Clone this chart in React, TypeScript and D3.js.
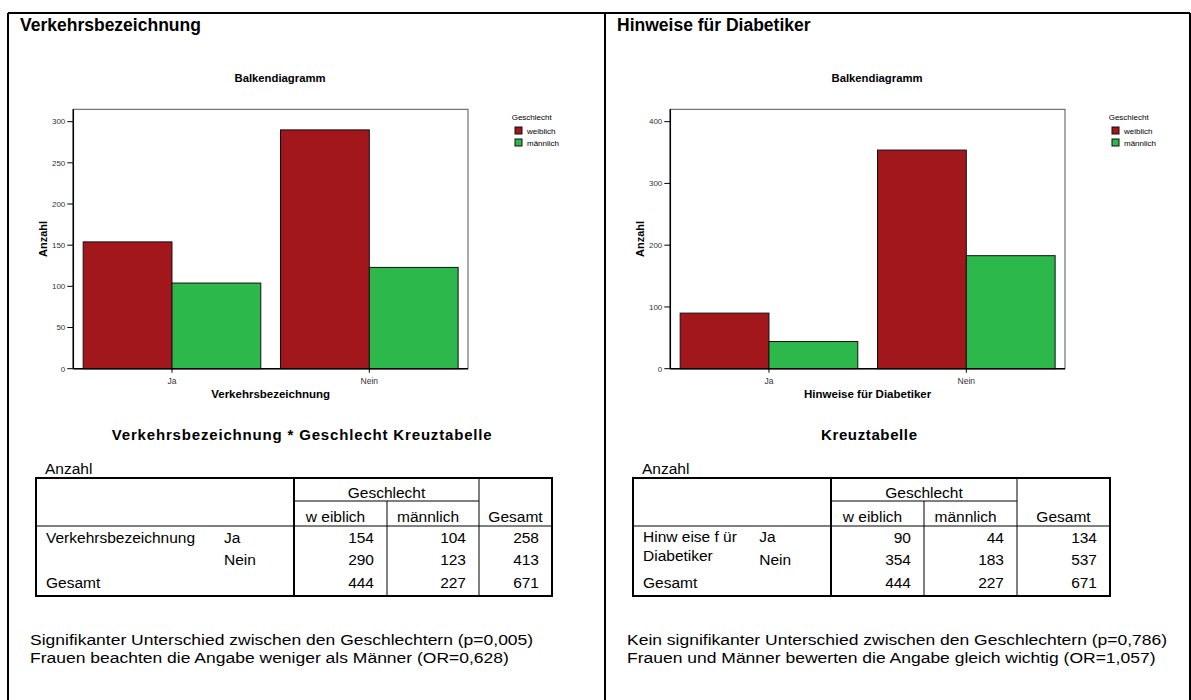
import * as d3 from "d3";

const categories = ["Ja", "Nein"];
const genders = ["weiblich", "männlich"];
const genderHeaders = ["w eiblich", "männlich"];
const verkehrWeiblich = [154, 290];
const verkehrMaennlich = [104, 123];
const verkehrRowTotals = [258, 413];
const diabetikerWeiblich = [90, 354];
const diabetikerMaennlich = [44, 183];
const diabetikerRowTotals = [134, 537];
const genderTotals = [444, 227];
const grandTotal = 671;
const verkehrTicks = [0, 50, 100, 150, 200, 250, 300];
const diabetikerTicks = [0, 100, 200, 300, 400];

const colors = ["#A1171C", "#2DB84B"];
const font = "'Liberation Sans', Arial, sans-serif";

type PanelProps = {
  dx: number;
  title: string;
  xTitle: string;
  weiblich: number[];
  maennlich: number[];
  rowTotals: number[];
  yMax: number;
  yTicks: number[];
  tableTitle: string;
  tableTitleLen: number;
  tableTitleX: number;
  table: { x0: number; x1: number; c1: number; c2: number; c3: number };
  rowLabels: { text: string; y: number }[];
  notes: string[];
};

function Panel(p: PanelProps) {
  const left = 73.3;
  const right = 468;
  const top = 109.3;
  const bottom = 368.7;
  const x = d3.scaleBand<string>().domain(categories).range([left, right]).paddingInner(0.1).paddingOuter(0.05);
  const xi = d3.scaleBand<string>().domain(genders).range([0, x.bandwidth()]);
  const y = d3.scaleLinear().domain([0, p.yMax]).range([bottom, top]);
  const series = [p.weiblich, p.maennlich];
  const t = p.table;
  const tTop = 478;
  const h1 = 501;
  const h2 = 526;
  const tBot = 596;
  const rowY = [543, 565, 588];
  const cellRight = [t.c2 - 13, t.c3 - 13, t.x1 - 13];

  return (
    <g transform={`translate(${p.dx},0)`} fontFamily={font}>
      <text x={20} y={31} fontSize={17.5} fontWeight="bold">{p.title}</text>
      <text x={280} y={82} fontSize={11.3} fontWeight="bold" textAnchor="middle">Balkendiagramm</text>

      {/* bars */}
      {categories.map((c, i) =>
        genders.map((g, j) => (
          <rect
            key={c + g}
            x={(x(c) ?? 0) + (xi(g) ?? 0)}
            y={y(series[j][i])}
            width={xi.bandwidth()}
            height={bottom - y(series[j][i])}
            fill={colors[j]}
            stroke="#111"
            strokeWidth={1}
          />
        ))
      )}

      <rect x={left} y={top} width={right - left} height={bottom - top} fill="none" stroke="#555" strokeWidth={1} />
      <line x1={left} x2={left} y1={top} y2={bottom} stroke="#000" strokeWidth={1.5} />
      <line x1={left} x2={right} y1={bottom} y2={bottom} stroke="#000" strokeWidth={1.5} />

      {p.yTicks.map((v) => (
        <g key={v}>
          <line x1={left - 6} x2={left} y1={y(v)} y2={y(v)} stroke="#000" strokeWidth={1} />
          <text x={left - 8} y={y(v) + 2.8} fontSize={8} textAnchor="end" fill="#333">{v}</text>
        </g>
      ))}
      {categories.map((c) => {
        const cx = (x(c) ?? 0) + x.bandwidth() / 2;
        return (
          <g key={c}>
            <line x1={cx} x2={cx} y1={bottom} y2={bottom + 4} stroke="#000" strokeWidth={1} />
            <text x={cx} y={384} fontSize={8.5} textAnchor="middle" fill="#333">{c}</text>
          </g>
        );
      })}
      <text x={(left + right) / 2} y={398} fontSize={11.5} fontWeight="bold" textAnchor="middle">{p.xTitle}</text>
      <text transform={`translate(47,${(top + bottom) / 2}) rotate(-90)`} fontSize={11} fontWeight="bold" textAnchor="middle">Anzahl</text>

      {/* legend */}
      <text x={511.7} y={120} fontSize={8}>Geschlecht</text>
      {genders.map((g, j) => (
        <g key={g}>
          <rect x={515} y={127 + j * 12} width={7} height={7} fill={colors[j]} stroke="#111" strokeWidth={1} />
          <text x={527} y={133.5 + j * 12} fontSize={8}>{g}</text>
        </g>
      ))}

      {/* cross table */}
      <text x={p.tableTitleX} y={440} fontSize={15} fontWeight="bold" textAnchor="middle" textLength={p.tableTitleLen} lengthAdjust="spacing">{p.tableTitle}</text>
      <text x={t.x0 + 9} y={474} fontSize={15.5}>Anzahl</text>
      <g stroke="#000" fill="none">
        <rect x={t.x0} y={tTop} width={t.x1 - t.x0} height={tBot - tTop} strokeWidth={2} />
        <line x1={t.c1} x2={t.c1} y1={tTop} y2={tBot} strokeWidth={2} />
        <line x1={t.c2} x2={t.c2} y1={h1} y2={tBot} strokeWidth={1} />
        <line x1={t.c3} x2={t.c3} y1={tTop} y2={tBot} strokeWidth={1} />
        <line x1={t.c1} x2={t.c3} y1={h1} y2={h1} strokeWidth={1} />
        <line x1={t.x0} x2={t.x1} y1={h2} y2={h2} strokeWidth={1} />
      </g>
      <g fontSize={15.5}>
        <text x={(t.c1 + t.c3) / 2} y={498} textAnchor="middle">Geschlecht</text>
        {genderHeaders.map((g, j) => (
          <text key={g} x={(j === 0 ? (t.c1 + t.c2) / 2 : (t.c2 + t.c3) / 2) - 5} y={522} textAnchor="middle">{g}</text>
        ))}
        <text x={(t.c3 + t.x1) / 2} y={522} textAnchor="middle">Gesamt</text>
        {p.rowLabels.map((r) => (
          <text key={r.text} x={t.x0 + 10} y={r.y}>{r.text}</text>
        ))}
        {categories.map((c, i) => (
          <text key={c} x={p.dx === 0 ? 224 : 759.3 - p.dx} y={rowY[i] - (i === 0 && p.dx !== 0 ? 1 : 0)}>{c}</text>
        ))}
        <text x={t.x0 + 10} y={rowY[2]}>Gesamt</text>
        {categories.map((c, i) => (
          <g key={c + "v"}>
            <text x={cellRight[0]} y={rowY[i]} textAnchor="end">{p.weiblich[i]}</text>
            <text x={cellRight[1]} y={rowY[i]} textAnchor="end">{p.maennlich[i]}</text>
            <text x={cellRight[2]} y={rowY[i]} textAnchor="end">{p.rowTotals[i]}</text>
          </g>
        ))}
        <text x={cellRight[0]} y={rowY[2]} textAnchor="end">{genderTotals[0]}</text>
        <text x={cellRight[1]} y={rowY[2]} textAnchor="end">{genderTotals[1]}</text>
        <text x={cellRight[2]} y={rowY[2]} textAnchor="end">{grandTotal}</text>
      </g>

      {/* notes: slightly widened glyphs so the two close lines keep the reference width */}
      {p.notes.map((n, i) => (
        <text key={n} transform={`translate(30,${645 + i * 17.5}) scale(1.13,1)`} fontSize={15.5}>{n}</text>
      ))}
    </g>
  );
}

export default function App() {
  return (
    <svg
      width={1191}
      height={700}
      viewBox="0 0 1191 700"
      style={{ position: "absolute", left: 0, top: 0, background: "#fff" }}
    >
      <rect x={0} y={0} width={1191} height={700} fill="#fff" />
      <g stroke="#000" strokeWidth={2} fill="none">
        <line x1={8} x2={1190} y1={13} y2={13} />
        <line x1={8} x2={8} y1={13} y2={700} />
        <line x1={605} x2={605} y1={13} y2={700} />
        <line x1={1190} x2={1190} y1={13} y2={700} />
      </g>
      <Panel
        dx={0}
        title="Verkehrsbezeichnung"
        xTitle="Verkehrsbezeichnung"
        weiblich={verkehrWeiblich}
        maennlich={verkehrMaennlich}
        rowTotals={verkehrRowTotals}
        yMax={315}
        yTicks={verkehrTicks}
        tableTitle="Verkehrsbezeichnung * Geschlecht Kreuztabelle"
        tableTitleLen={380}
        tableTitleX={301.7}
        table={{ x0: 36, x1: 552, c1: 294, c2: 387, c3: 479 }}
        rowLabels={[{ text: "Verkehrsbezeichnung", y: 543 }]}
        notes={[
          "Signifikanter Unterschied zwischen den Geschlechtern (p=0,005)",
          "Frauen beachten die Angabe weniger als Männer (OR=0,628)",
        ]}
      />
      <Panel
        dx={597}
        title="Hinweise für Diabetiker"
        xTitle="Hinweise für Diabetiker"
        weiblich={diabetikerWeiblich}
        maennlich={diabetikerMaennlich}
        rowTotals={diabetikerRowTotals}
        yMax={420}
        yTicks={diabetikerTicks}
        tableTitle="Kreuztabelle"
        tableTitleLen={96}
        tableTitleX={272}
        table={{ x0: 36, x1: 513, c1: 234, c2: 327, c3: 420 }}
        rowLabels={[
          { text: "Hinw eise f ür", y: 542 },
          { text: "Diabetiker", y: 561 },
        ]}
        notes={[
          "Kein signifikanter Unterschied zwischen den Geschlechtern (p=0,786)",
          "Frauen und Männer bewerten die Angabe gleich wichtig (OR=1,057)",
        ]}
      />
    </svg>
  );
}
